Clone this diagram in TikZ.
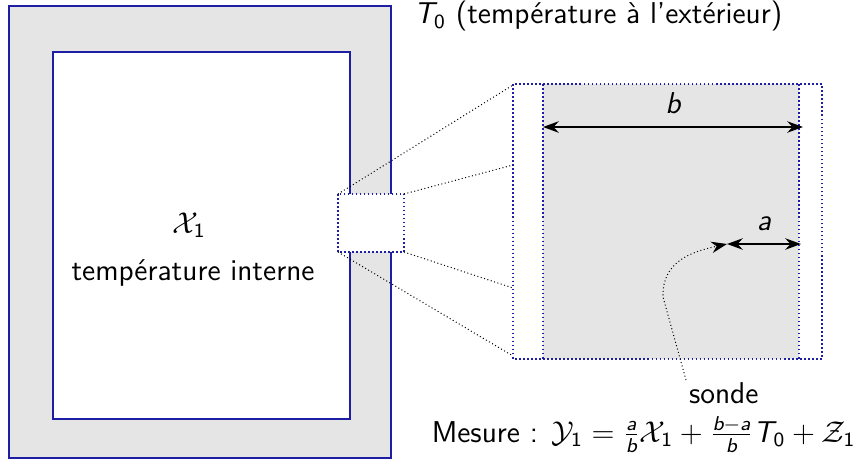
\documentclass[tikz,border=0pt]{standalone}
\usepackage{amsmath}
\renewcommand{\familydefault}{\sfdefault}
\usetikzlibrary{arrows.meta,positioning}
\definecolor{navy}{RGB}{30,30,165}
\definecolor{mur}{RGB}{229,229,229}
% variables en sans italique
\newcommand{\vi}[1]{\text{\itshape #1}}
\newcommand{\ix}[1]{_{\text{#1}}}
\tikzset{
  >={Stealth[length=2.2mm,width=1.6mm]},
  paroi/.style={draw=navy,thick},
  loupe/.style={draw=navy,densely dotted,semithick},
  rayon/.style={black,densely dotted},
  cote/.style={<->,thick},
  etiq/.style={font=\large,inner sep=1pt},
}
\begin{document}
\begin{tikzpicture}[x=0.014cm,y=-0.014cm]
  \useasboundingbox (0,0) rectangle (856,459);
  % la piece et son mur
  \filldraw[paroi,fill=mur] (9,6) rectangle (391,458);
  \filldraw[paroi,fill=white] (53,52) rectangle (350,419);
  \node[etiq] (x1) at (189,225) {$\mathcal{X}\ix{1}$};
  \node[etiq] (tint) at (193,273) {température interne};
  \node[etiq,anchor=west] (t0) at (411,16) {$\vi{T}\ix{0}$ (température à l'extérieur)};
  % zone agrandie
  \filldraw[loupe,fill=white] (338,194) rectangle (404,252);
  \coordinate (p1) at (338,194); \coordinate (p2) at (404,194);
  \coordinate (p3) at (404,252); \coordinate (p4) at (338,252);
  \filldraw[loupe,fill=white] (513,84) rectangle (822,359);
  \fill[mur] (543,84) rectangle (799,359);
  \draw[loupe] (543,84) -- (543,359) (799,84) -- (799,359);
  \draw[loupe] (513,84) rectangle (822,359);
  \coordinate (q1) at (513,85); \coordinate (q2) at (513,165);
  \coordinate (q3) at (513,288); \coordinate (q4) at (513,356);
  \foreach \i in {1,...,4} \draw[rayon] (p\i) -- (q\i);
  % cotes
  \coordinate (b1) at (543,127); \coordinate (b2) at (803,127);
  \draw[cote] (b1) -- node[etiq,above=4pt] {$\vi{b}$} (b2);
  \coordinate (a1) at (727,244); \coordinate (a2) at (801,244);
  \draw[cote] (a1) -- node[etiq,above=4pt] {$\vi{a}$} (a2);
  % sonde
  \node[etiq,anchor=north west] (sonde) at (686,380) {sonde};
  \draw[rayon,->] (sonde.north west) -- (663,297) .. controls (662,262) and (690,252) .. (a1);
  \node[etiq,anchor=base east,inner sep=0pt] (mesure) at (856,442)
    {Mesure : $\mathcal{Y}\ix{1}=\frac{\vi{a}}{\vi{b}}\mathcal{X}\ix{1}
      +\frac{\vi{b}-\vi{a}}{\vi{b}}\vi{T}\ix{0}+\mathcal{Z}\ix{1}$};
\end{tikzpicture}
\end{document}
